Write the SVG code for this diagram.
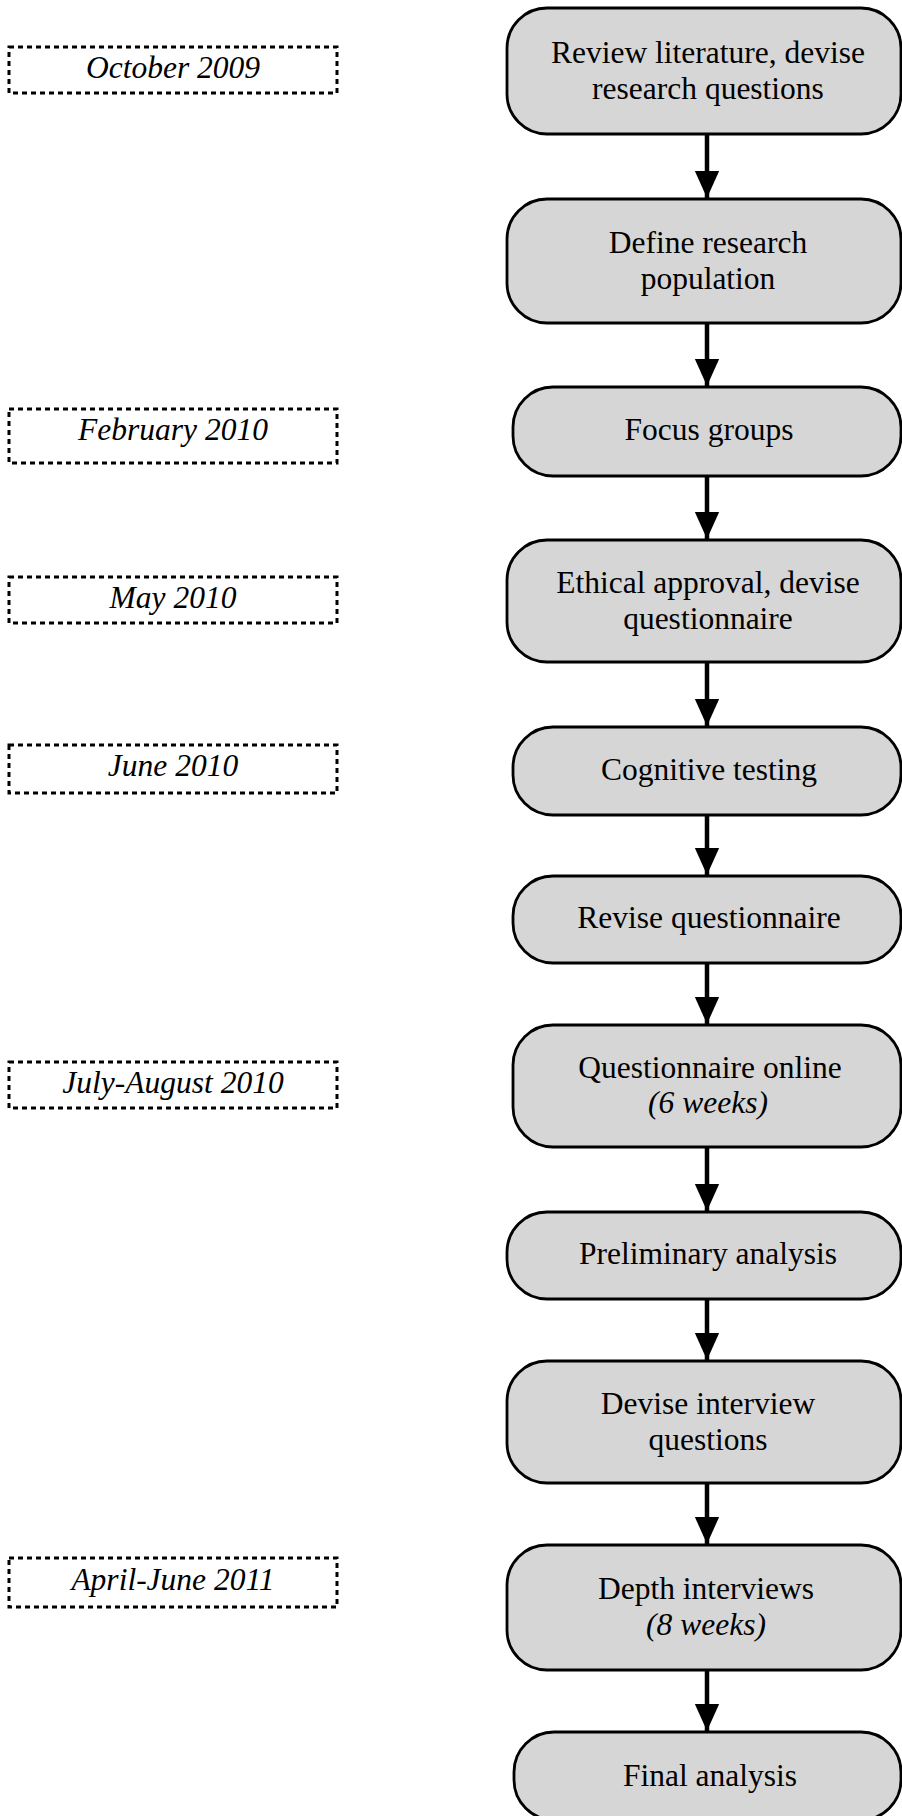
<svg xmlns="http://www.w3.org/2000/svg" width="902" height="1816" viewBox="0 0 902 1816">
<style>
.node rect{fill:#d6d6d6;stroke:#000;stroke-width:2.8}
.node text{font-family:"Liberation Serif","Times New Roman",serif;font-size:31.5px;fill:#000;text-anchor:middle}
.it{font-style:italic}
.date rect{fill:none;stroke:#000;stroke-width:3;stroke-dasharray:5 4}
.date text{font-family:"Liberation Serif","Times New Roman",serif;font-size:31.5px;font-style:italic;fill:#000;text-anchor:middle}
.conn line{stroke:#000;stroke-width:4.5}
</style>
<defs>
<marker id="arr" markerWidth="6" markerHeight="6" refX="6" refY="3" orient="auto" markerUnits="strokeWidth">
<path d="M0,0.3 L6,3 L0,5.7 Z" fill="#000"/>
</marker>
</defs>
<rect width="902" height="1816" fill="#fff"/>
<g id="dates">
<g id="d1" class="date"><rect x="9" y="47" width="328" height="46"/><text x="173" y="78">October 2009</text></g>
<g id="d2" class="date"><rect x="9" y="409" width="328" height="54"/><text x="173" y="440">February 2010</text></g>
<g id="d3" class="date"><rect x="9" y="577" width="328" height="46"/><text x="173" y="608">May 2010</text></g>
<g id="d4" class="date"><rect x="9" y="745" width="328" height="48"/><text x="173" y="776">June 2010</text></g>
<g id="d5" class="date"><rect x="9" y="1062" width="328" height="46"/><text x="173" y="1093">July-August 2010</text></g>
<g id="d6" class="date"><rect x="9" y="1558" width="328" height="49"/><text x="173" y="1590">April-June 2011</text></g>
</g>
<g id="n1" class="node"><rect x="507" y="8" width="394" height="126" rx="40"/><text x="708" y="63">Review literature, devise</text><text x="708" y="99">research questions</text></g>
<g id="n2" class="node"><rect x="507" y="199" width="394" height="124" rx="40"/><text x="708" y="253">Define research</text><text x="708" y="289">population</text></g>
<g id="n3" class="node"><rect x="513" y="387" width="388" height="89" rx="40"/><text x="709" y="440">Focus groups</text></g>
<g id="n4" class="node"><rect x="507" y="540" width="394" height="122" rx="40"/><text x="708" y="593">Ethical approval, devise</text><text x="708" y="629">questionnaire</text></g>
<g id="n5" class="node"><rect x="513" y="727" width="388" height="88" rx="40"/><text x="709" y="780">Cognitive testing</text></g>
<g id="n6" class="node"><rect x="513" y="876" width="388" height="87" rx="40"/><text x="709" y="928">Revise questionnaire</text></g>
<g id="n7" class="node"><rect x="513" y="1025" width="388" height="122" rx="40"/><text x="710" y="1078">Questionnaire online</text><text x="708" y="1113" class="it">(6 weeks)</text></g>
<g id="n8" class="node"><rect x="507" y="1212" width="394" height="87" rx="40"/><text x="708" y="1264">Preliminary analysis</text></g>
<g id="n9" class="node"><rect x="507" y="1361" width="394" height="122" rx="40"/><text x="708" y="1414">Devise interview</text><text x="708" y="1450">questions</text></g>
<g id="n10" class="node"><rect x="507" y="1545" width="394" height="125" rx="40"/><text x="706" y="1599">Depth interviews</text><text x="706" y="1635" class="it">(8 weeks)</text></g>
<g id="n11" class="node"><rect x="514" y="1732" width="387" height="88" rx="40"/><text x="710" y="1786">Final analysis</text></g>
<g id="connectors" class="conn">
<line x1="707" y1="134" x2="707" y2="198" marker-end="url(#arr)"/>
<line x1="707" y1="323" x2="707" y2="386" marker-end="url(#arr)"/>
<line x1="707" y1="476" x2="707" y2="539" marker-end="url(#arr)"/>
<line x1="707" y1="662" x2="707" y2="726" marker-end="url(#arr)"/>
<line x1="707" y1="815" x2="707" y2="875" marker-end="url(#arr)"/>
<line x1="707" y1="963" x2="707" y2="1024" marker-end="url(#arr)"/>
<line x1="707" y1="1147" x2="707" y2="1211" marker-end="url(#arr)"/>
<line x1="707" y1="1299" x2="707" y2="1360" marker-end="url(#arr)"/>
<line x1="707" y1="1483" x2="707" y2="1544" marker-end="url(#arr)"/>
<line x1="707" y1="1670" x2="707" y2="1731" marker-end="url(#arr)"/>
</g>
</svg>
